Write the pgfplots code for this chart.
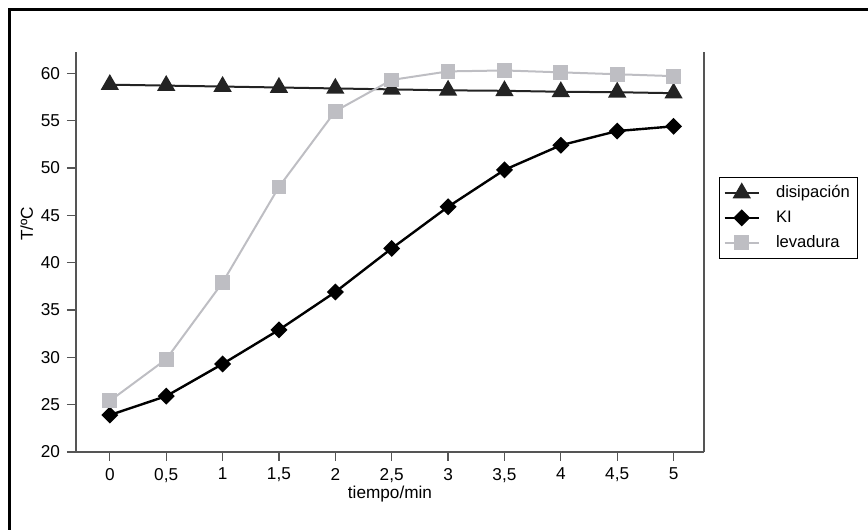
\documentclass[border=0pt]{standalone}
\usepackage{fontspec}
\setmainfont{Liberation Sans}
\usepackage{pgfplots}
\pgfplotsset{compat=1.18}
\definecolor{levgray}{RGB}{190,190,195}
\definecolor{axgray}{RGB}{85,85,85}
\definecolor{darktri}{RGB}{35,35,35}

\begin{document}
\begin{tikzpicture}
\useasboundingbox (-38pt,-39pt) rectangle (396pt,226pt);
% outer frame (only left and top edges fall inside the picture)
\draw[black, line width=1.5pt] (-33pt,-45pt) -- (-33pt,221pt) -- (400pt,221pt);
\begin{axis}[
  at={(0,0)}, anchor=south west,
  scale only axis, width=314pt, height=200pt,
  xmin=-0.3, xmax=5.27, ymin=20, ymax=62.25,
  axis x line*=bottom, axis y line*=left,
  axis line style={axgray, line width=0.6pt},
  tick style={axgray, line width=0.6pt},
  tick align=outside, major tick length=4.5pt,
  xtick={0,0.5,1,1.5,2,2.5,3,3.5,4,4.5,5},
  xticklabels={0,{0,5},1,{1,5},2,{2,5},3,{3,5},4,{4,5},5},
  ytick={20,25,30,35,40,45,50,55,60},
  font=\fontsize{8.6}{10}\selectfont,
  /pgf/number format/assume math mode=true,
  xlabel={tiempo/min},
  xlabel style={at={(rel axis cs:0.5,-0.106)}, anchor=center},
  ylabel={T/ºC},
  ylabel style={at={(rel axis cs:-0.0785,0.57)}, anchor=center},
  legend style={at={(rel axis cs:1.024,0.6875)}, anchor=north west,
    draw=black, thin, font=\fontsize{8.3}{10}\selectfont,
    row sep=1pt, column sep=6pt, inner xsep=2pt},
  legend cell align=left,
  clip=false,
]
\addplot[darktri, line width=1pt, mark=triangle*, mark size=4.3pt] coordinates {
  (0,58.8) (0.5,58.7) (1,58.6) (1.5,58.5) (2,58.4) (2.5,58.3)
  (3,58.2) (3.5,58.15) (4,58.05) (4.5,58.0) (5,57.9)};
\addlegendentry{disipación}
\addplot[black, line width=1.2pt, mark=square*, mark size=2.4pt,
  mark options={rotate=45}] coordinates {
  (0,23.9) (0.5,25.9) (1,29.3) (1.5,32.9) (2,36.9) (2.5,41.5)
  (3,45.9) (3.5,49.8) (4,52.4) (4.5,53.9) (5,54.4)};
\addlegendentry{KI}
\addplot[levgray, line width=1pt, mark=square*, mark size=3.2pt] coordinates {
  (0,25.4) (0.5,29.8) (1,37.9) (1.5,48.0) (2,56.0) (2.5,59.3)
  (3,60.2) (3.5,60.3) (4,60.1) (4.5,59.9) (5,59.7)};
\addlegendentry{levadura}
\draw[axgray, line width=0.6pt] (rel axis cs:1,0) -- (rel axis cs:1,1);
\end{axis}
\end{tikzpicture}
\end{document}
